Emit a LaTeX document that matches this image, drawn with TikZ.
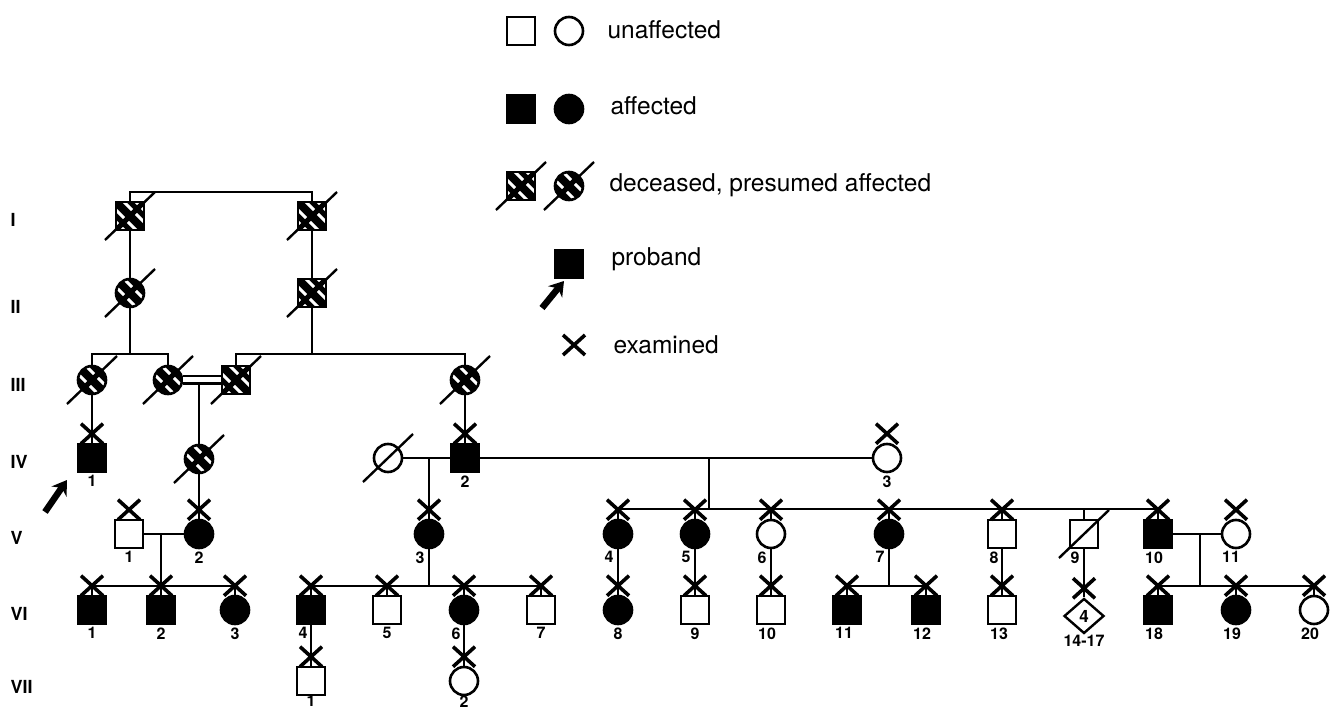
\documentclass[tikz,border=0pt]{standalone}
\usepackage{fontspec}
\setmainfont{TeX Gyre Heros}
\usetikzlibrary{shapes.geometric,arrows.meta}

\newcommand{\exam}[1]{\draw[exmark] ([shift={(-11,-19)}]#1.north) -- ++(22,20)
   ([shift={(11,-19)}]#1.north) -- ++(-22,20);}
\newcommand{\dead}[1]{\draw[slash] ([shift={(-25,24)}]#1.center) -- ([shift={(25,-24)}]#1.center);}

\tikzset{
  sym/.style={draw, line width=2.6pt, minimum size=28pt, inner sep=0pt, fill=white},
  sq/.style={sym, rectangle},
  ci/.style={sym, circle},
  aff/.style={fill=black},
  hatch/.style={fill=black, path picture={
     \foreach \k in {-10,-4,4,10}
       {\draw[white,line width=3pt] ([xshift=\k pt,yshift=\k pt]path picture bounding box.center)
          ++(-30pt,30pt) -- ++(60pt,-60pt);}
     \draw[line width=5pt] (path picture bounding box.center) ++(-30pt,-30pt) -- ++(60pt,60pt);
  }},
  line/.style={line width=2.2pt},
  slash/.style={line width=2.4pt},
  exmark/.style={line width=3.6pt},
  num/.style={font=\bfseries\fontsize{16}{16}\selectfont, inner sep=0pt},
  gen/.style={anchor=west, font=\bfseries\fontsize{18}{18}\selectfont},
  legtext/.style={anchor=west, font=\fontsize{24.5}{26}\selectfont},
  proband/.style={-{Stealth[length=14pt,width=18pt]}, line width=6.5pt},
}

\begin{document}
\begin{tikzpicture}[x=1pt,y=-1pt,label distance=2pt]
  \useasboundingbox (0,0) rectangle (1334,711);

  % generation labels
  \foreach \g/\y in {I/220,II/307,III/385,IV/462,V/538,VI/614,VII/687}
    \node[gen] (g\g) at (7,\y) {\g};

  % legend
  \node[sq] (lusq) at (521,31) {};
  \node[ci] (luci) at (569,31) {};
  \node[legtext] (lut) at (604,30) {unaffected};
  \node[sq,aff] (lasq) at (521,109) {};
  \node[ci,aff] (laci) at (569,109) {};
  \node[legtext] (lat) at (607,106) {affected};
  \node[sq,hatch] (ldsq) at (521,186) {};
  \node[ci,hatch] (ldci) at (569,186) {};
  \node[legtext] (ldt) at (606,185) {deceased, presumed affected};
  \node[sq,aff] (lpsq) at (569,264) {};
  \node[legtext] (lpt) at (608,259) {proband};
  \coordinate (lex) at (574,345);
  \node[legtext] (let) at (610,345) {examined};

  % connectors
  \coordinate (s3a) at (130,354);
  \coordinate (s3b) at (312,354);
  \coordinate (m3) at (199,384);
  \coordinate (s5) at (709,509);
  \coordinate (s6a) at (161,586);
  \coordinate (s6b) at (429,586);
  \coordinate (s6c) at (889,586);
  \coordinate (s6d) at (1200,586);

  % generation I - III
  \node[sq,hatch] (i1) at (130,216) {};
  \node[sq,hatch] (i2) at (312,216) {};
  \node[ci,hatch] (ii1) at (130,293) {};
  \node[sq,hatch] (ii2) at (312,293) {};
  \node[ci,hatch] (iii1) at (92,380) {};
  \node[ci,hatch] (iii2) at (168,380) {};
  \node[sq,hatch] (iii3) at (236,380) {};
  \node[ci,hatch] (iii4) at (465,380) {};

  % generation IV
  \node[sq,aff,label={[num]below:1}] (iv1) at (92,458) {};
  \node[ci,hatch] (ivh) at (199,459) {};
  \node[ci] (ivw) at (388,458) {};
  \node[sq,aff,label={[num]below:2}] (iv2) at (465,458) {};
  \node[ci,label={[num]below:3}] (iv3) at (887,458) {};

  % generation V
  \node[sq,label={[num]below:1}] (v1) at (129,534) {};
  \node[ci,aff,label={[num]below:2}] (v2) at (199,534) {};
  \node[ci,aff,label={[num,xshift=-9pt]below:3}] (v3) at (429,534) {};
  \node[ci,aff,label={[num,xshift=-9pt]below:4}] (v4) at (618,534) {};
  \node[ci,aff,label={[num,xshift=-9pt]below:5}] (v5) at (695,534) {};
  \node[ci,label={[num,xshift=-9pt]below:6}] (v6) at (771,534) {};
  \node[ci,aff,label={[num,xshift=-9pt]below:7}] (v7) at (889,534) {};
  \node[sq,label={[num,xshift=-8pt]below:8}] (v8) at (1002,534) {};
  \node[sq,label={[num,xshift=-9pt]below:9}] (v9) at (1084,534) {};
  \node[sq,aff,label={[num,xshift=-4pt]below:10}] (v10) at (1158,534) {};
  \node[ci,label={[num,xshift=-5pt]below:11}] (v11) at (1236,534) {};

  % generation VI
  \node[sq,aff,label={[num]below:1}] (vi1) at (92,610) {};
  \node[sq,aff,label={[num]below:2}] (vi2) at (161,610) {};
  \node[ci,aff,label={[num]below:3}] (vi3) at (235,610) {};
  \node[sq,aff,label={[num,xshift=-8pt]below:4}] (vi4) at (311,610) {};
  \node[sq,label={[num]below:5}] (vi5) at (387,610) {};
  \node[ci,aff,label={[num,xshift=-8pt]below:6}] (vi6) at (464,610) {};
  \node[sq,label={[num]below:7}] (vi7) at (541,610) {};
  \node[ci,aff,label={[num]below:8}] (vi8) at (618,610) {};
  \node[sq,label={[num]below:9}] (vi9) at (695,610) {};
  \node[sq,label={[num,xshift=-4pt]below:10}] (vi10) at (771,610) {};
  \node[sq,aff,label={[num,xshift=-3pt]below:11}] (vi11) at (847,610) {};
  \node[sq,aff,label={[num,xshift=-4pt]below:12}] (vi12) at (926,610) {};
  \node[sq,label={[num,xshift=-3pt]below:13}] (vi13) at (1002,610) {};
  \node[diamond,draw,line width=2.4pt,fill=white,inner sep=0pt,minimum width=40pt,minimum height=35pt,
        font=\bfseries\fontsize{17}{17}\selectfont,label={[num,label distance=0pt]below:14-17}] (vi14) at (1084,616) {4};
  \node[sq,aff,label={[num,xshift=-4pt]below:18}] (vi18) at (1158,610) {};
  \node[ci,aff,label={[num,xshift=-4pt]below:19}] (vi19) at (1236,610) {};
  \node[ci,label={[num,xshift=-4pt]below:20}] (vi20) at (1314,610) {};

  % generation VII
  \node[sq,label={[num,label distance=-1pt]below:1}] (vii1) at (311,681) {};
  \node[ci,label={[num,label distance=-1pt]below:2}] (vii2) at (464,681) {};

  % lines of descent
  \draw[line] (i1.north) -- ++(0,-9) -| (i2.north);
  \draw[line] (i1) -- (ii1);
  \draw[line] (i2) -- (ii2);
  \draw[line] (ii1) -- (s3a);
  \draw[line] (ii2) -- (s3b);
  \draw[line] (iii1.north) |- (s3a) -| (iii2.north);
  \draw[line] (iii3.north) |- (s3b) -| (iii4.north);
  \draw[line,double distance=5pt] (iii2) -- (iii3);
  \draw[line] (m3) -- (ivh);
  \draw[line] (iii1) -- (iv1);
  \draw[line] (iii4) -- (iv2);
  \draw[line] (ivh) -- (v2);
  \draw[line] (ivw) -- (iv2);
  \draw[line] (iv2) -- (iv3);
  \draw[line] (v3) -- (v3 |- iv2);
  \draw[line] (s5) -- (s5 |- iv2);
  \draw[line] (v4.north |- s5) -- (v10.north |- s5);
  \foreach \c in {v4,v5,v6,v7,v8,v9,v10}
    {\draw[line] (\c.north) -- (\c.north |- s5);}
  \draw[line] (v1) -- (v2);
  \draw[line] (s6a) -- (s6a |- v1);
  \draw[line] (vi1.north |- s6a) -- (vi3.north |- s6a);
  \foreach \c in {vi1,vi2,vi3}
    {\draw[line] (\c.north) -- (\c.north |- s6a);}
  \draw[line] (v3) -- (s6b);
  \draw[line] (vi4.north |- s6b) -- (vi7.north |- s6b);
  \foreach \c in {vi4,vi5,vi6,vi7}
    {\draw[line] (\c.north) -- (\c.north |- s6b);}
  \draw[line] (v4) -- (vi8);
  \draw[line] (v5) -- (vi9);
  \draw[line] (v6) -- (vi10);
  \draw[line] (v7) -- (s6c);
  \draw[line] (vi11.north |- s6c) -- (vi12.north |- s6c);
  \foreach \c in {vi11,vi12}
    {\draw[line] (\c.north) -- (\c.north |- s6c);}
  \draw[line] (v8) -- (vi13);
  \draw[line] (v9) -- (vi14);
  \draw[line] (v10) -- (v11);
  \draw[line] (s6d) -- (s6d |- v10);
  \draw[line] (vi18.north |- s6d) -- (vi20.north |- s6d);
  \foreach \c in {vi18,vi19,vi20}
    {\draw[line] (\c.north) -- (\c.north |- s6d);}
  \draw[line] (vi4) -- (vii1);
  \draw[line] (vi6) -- (vii2);

  % deceased
  \foreach \c in {ldsq,ldci,i1,i2,ii1,ii2,iii1,iii2,iii3,iii4,ivh,ivw,v9}
    {\dead{\c}}

  % examined
  \foreach \c in {iv1,iv2,iv3,v1,v2,v3,v4,v5,v6,v7,v8,v10,v11,
                  vi1,vi2,vi3,vi4,vi5,vi6,vi7,vi8,vi9,vi10,vi11,vi12,vi13,vi14,vi18,vi19,vi20,vii1,vii2}
    {\exam{\c}}
  \draw[exmark] ([shift={(-11,-10)}]lex) -- ++(22,20) ([shift={(11,-10)}]lex) -- ++(-22,20);

  % probands
  \draw[proband] ([shift={(-47,54)}]iv1.center) -- ([shift={(-25,22)}]iv1.center);
  \draw[proband] ([shift={(-27,44)}]lpsq.center) -- ([shift={(-5,17)}]lpsq.center);
\end{tikzpicture}
\end{document}
